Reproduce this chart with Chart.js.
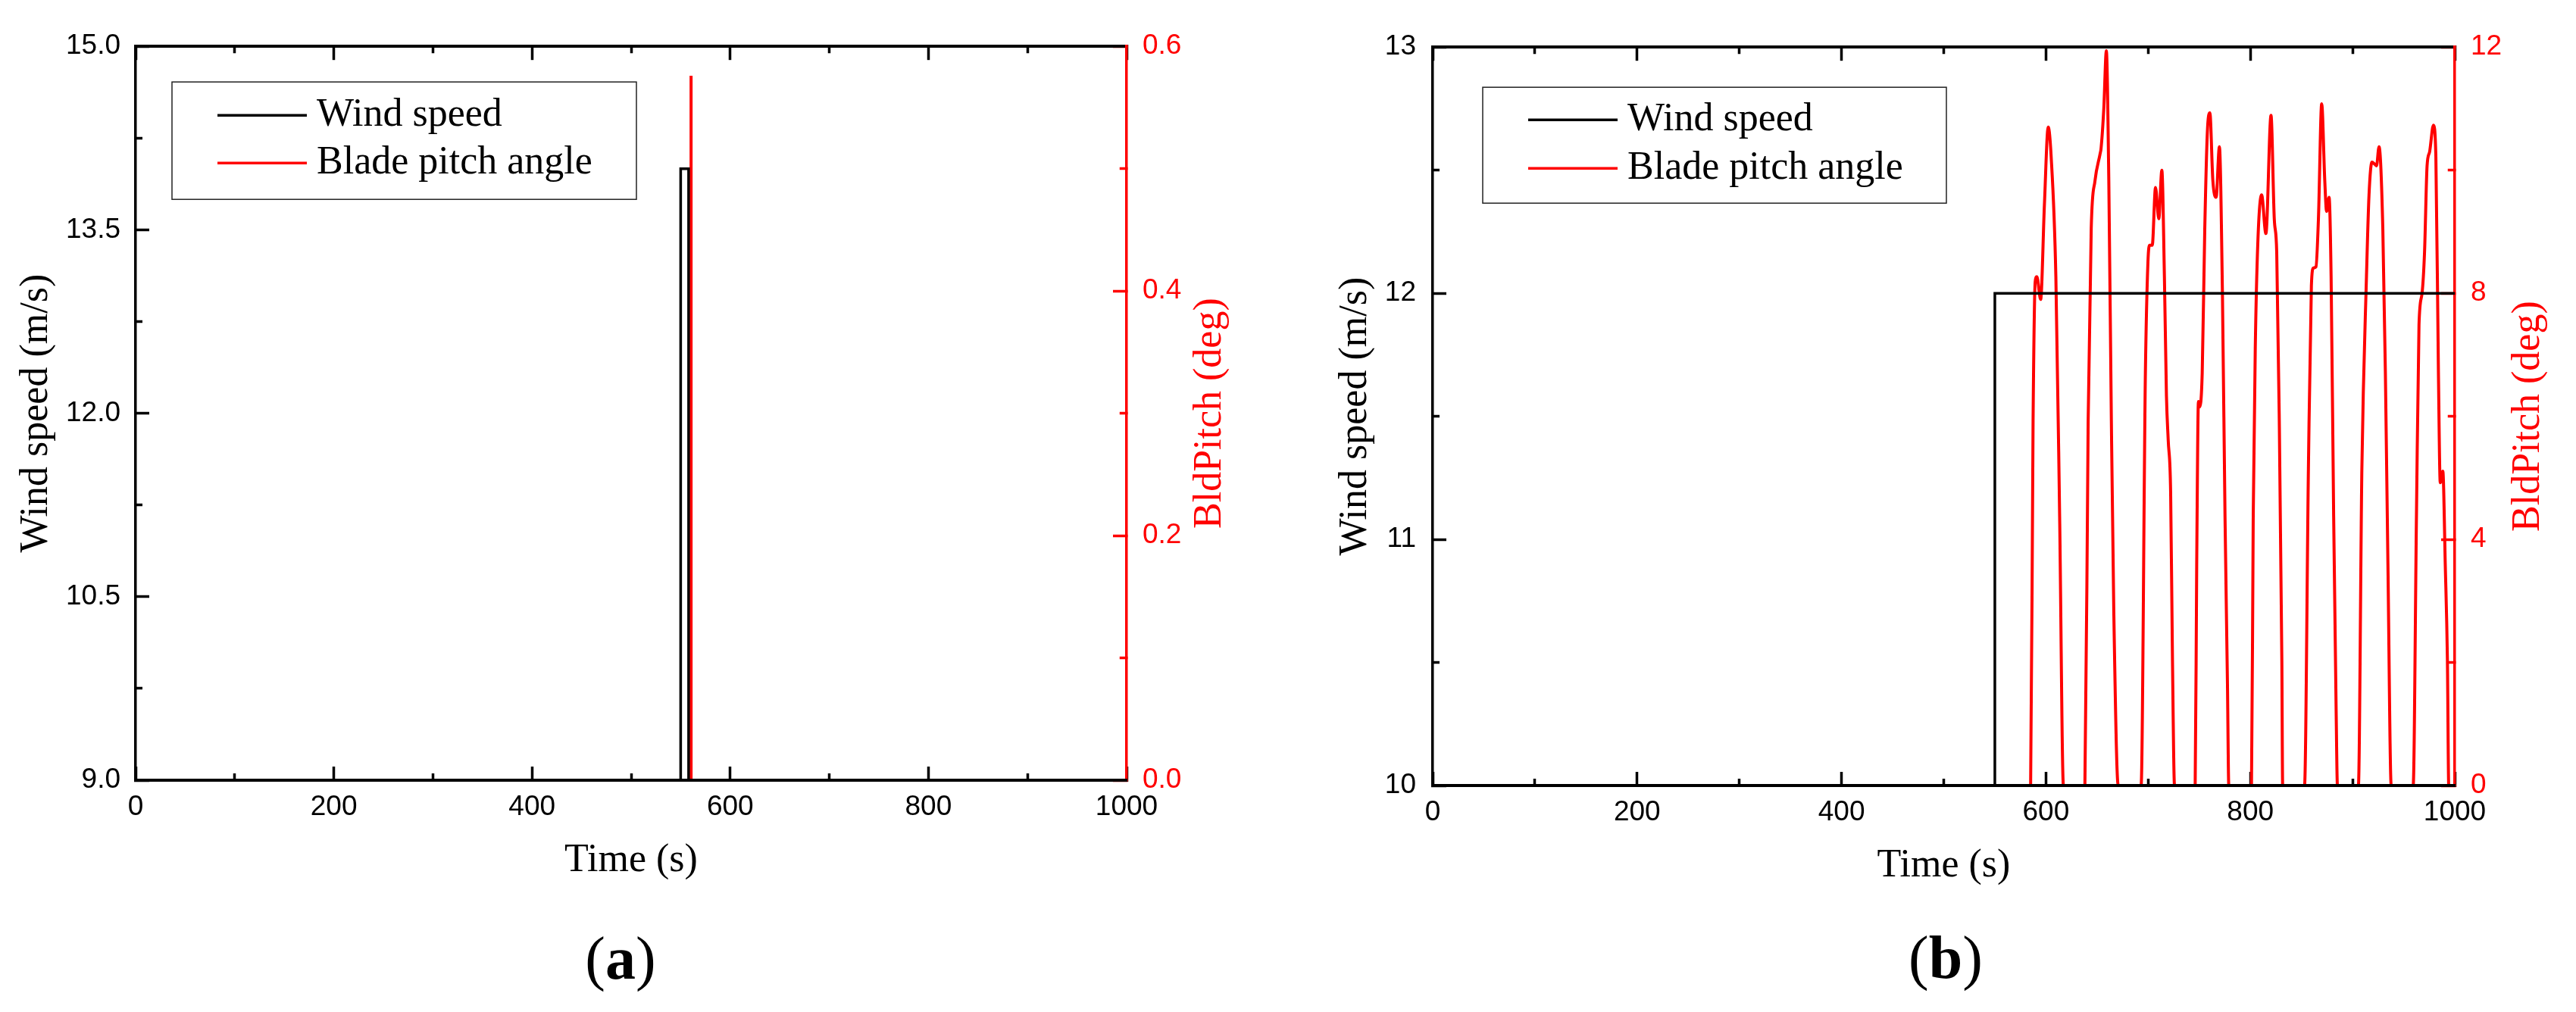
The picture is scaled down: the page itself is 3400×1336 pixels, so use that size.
<!DOCTYPE html>
<html>
<head>
<meta charset="utf-8">
<script src="https://cdn.jsdelivr.net/npm/chart.js@4.4.1/dist/chart.umd.min.js"></script>
<style>
  html, body { margin: 0; padding: 0; background: #fff; }
  #wrap { position: relative; width: 3400px; height: 1336px; }
  canvas { position: absolute; top: 0; }
  #chartA { left: 0; }
  #chartB { left: 1700px; }
</style>
</head>
<body>
<div id="wrap">
  <canvas id="chartA" width="1700" height="1336"></canvas>
  <canvas id="chartB" width="1700" height="1336"></canvas>
</div>
<script>
// ---- panel (a): short gust, single pitch spike ----
const timeWindA = [0, 550, 550, 558, 558, 1000];
const windA = [9, 9, 14, 14, 9, 9];
const timePitchA = [0, 560.5, 560.5, 560.5, 1000];
const pitchA = [0, 0, 0.576, 0, 0];

// ---- panel (b): step to 12 m/s, pitch controller pulses ----
const timeWindB = [0, 550, 550, 1000];
const windB = [10, 10, 12, 12];
const timePitchB = [
  0, 585.0, 587.4, 589.5, 591.1, 594.8, 598.5, 602.2, 605.1, 609.7, 613.4, 617.1,
  638.1, 641.3, 644.3, 648.0, 652.9, 653.9, 656.6, 659.1, 661.5, 664.0, 666.4, 670.7,
  693.1, 697.3, 699.8, 701.5, 704.0, 707.2, 710.4, 713.4, 715.9, 717.9, 719.6, 722.0, 723.8, 725.8,
  746.0, 747.5, 749.2, 750.2, 752.9, 755.4, 757.9, 760.4, 763.3, 766.5, 769.7, 772.7, 775.2, 777.6, 778.9,
  801.1, 802.8, 804.8, 807.3, 811.0, 815.2, 820.2, 823.4, 825.8, 828.3, 830.8, 831.6,
  853.0, 856.8, 859.7, 861.7, 864.2, 866.6, 869.8, 872.8, 874.6, 877.0, 879.0, 881.5, 883.9, 885.2,
  905.7, 909.1, 913.6, 916.1, 919.0, 921.5, 923.4, 925.9, 929.6, 932.1, 934.6, 937.8,
  959.3, 962.5, 965.0, 968.0, 970.4, 972.9, 975.4, 979.1, 981.5, 984.0, 985.8, 988.3, 990.7, 992.8, 994.1, 1000
];
const pitchB = [
  0, 0, 5.93, 8.19, 8.27, 7.90, 9.44, 10.70, 10.22, 8.27, 4.37, 0,
  0, 5.93, 9.05, 9.83, 10.26, 10.35, 11.0, 11.94, 9.83, 5.93, 2.81, 0,
  0, 6.71, 8.51, 8.78, 8.78, 9.72, 9.21, 10.0, 8.27, 6.33, 5.62, 4.76, 2.03, 0,
  0, 3.59, 6.24, 6.15, 6.71, 9.05, 10.61, 10.93, 9.83, 9.56, 10.38, 7.96, 4.37, 1.64, 0,
  0, 4.37, 7.10, 8.82, 9.60, 8.97, 10.89, 9.21, 8.66, 5.93, 2.03, 0,
  0, 5.15, 8.12, 8.41, 8.43, 9.21, 11.08, 9.83, 9.33, 9.56, 8.27, 4.37, 1.25, 0,
  0, 5.15, 8.27, 9.60, 10.13, 10.10, 10.07, 10.38, 9.05, 6.71, 3.59, 0,
  0, 4.37, 7.49, 8.00, 8.66, 10.07, 10.30, 10.73, 10.22, 6.71, 4.92, 5.11, 3.59, 2.03, 0, 0
];

// major tick values (labels); minor ticks sit halfway between
const timeTicks = [0, 200, 400, 600, 800, 1000];
const windTicksA = [9.0, 10.5, 12.0, 13.5, 15.0];
const pitchTicksA = [0.0, 0.2, 0.4, 0.6];
const windTicksB = [10, 11, 12, 13];
const pitchTicksB = [0, 4, 8, 12];

const SERIF = "'Liberation Serif', 'Times New Roman', serif";
const RED = '#ff0000';
const TICK_LEN = 18;
const MINOR_LEN = 9;

Chart.defaults.font.family = "'Liberation Sans', Arial, sans-serif";
Chart.defaults.color = '#000';
Chart.defaults.animation = false;

function zip(xs, ys) {
  return xs.map((x, i) => ({ x, y: ys[i] }));
}

function withMinors(majors) {
  const out = [];
  majors.forEach((v, i) => {
    out.push(v);
    if (i < majors.length - 1) out.push((v + majors[i + 1]) / 2);
  });
  return out;
}

// inward major/minor ticks done with negative tick length + dash for minors
function makeAxis(o) {
  const all = withMinors(o.majors);
  const isMajor = v => o.majors.some(m => Math.abs(m - v) < 1e-9);
  const innerFirst = o.position === 'left' || o.position === 'top';
  const bw = o.borderWidth || 3.5;
  return {
    type: 'linear',
    position: o.position,
    min: o.majors[0],
    max: o.majors[o.majors.length - 1],
    afterBuildTicks: s => { s.ticks = all.map(v => ({ value: v })); },
    afterFit: s => {
      if (s.isHorizontal()) s.height = o.size; else s.width = o.size;
    },
    border: { display: true, color: o.color, width: bw, z: o.borderZ || 0 },
    grid: {
      display: true,
      drawOnChartArea: false,
      drawTicks: true,
      tickLength: -TICK_LEN,
      tickWidth: 3.5,
      tickColor: o.color,
      tickBorderDash: ctx => isMajor(ctx.tick.value) ? [] :
        (innerFirst ? [0, TICK_LEN - MINOR_LEN, 100] : [MINOR_LEN + bw / 2, 100])
    },
    ticks: {
      display: !!o.labels,
      autoSkip: false,
      padding: o.labelPad || 0,
      color: o.color,
      font: { size: 37 },
      maxRotation: 0,
      callback: v => isMajor(v) ? v.toFixed(o.digits || 0) : ''
    },
    title: o.title ? {
      display: true,
      text: o.title,
      color: o.color,
      font: { family: SERIF, size: 52 },
      padding: o.titlePad
    } : { display: false }
  };
}

// legend with a frame, placed inside the plot area
const frameLegend = {
  id: 'frameLegend',
  afterDatasetsDraw(chart, args, opts) {
    const { ctx, chartArea } = chart;
    const x0 = chartArea.left + opts.x;
    const y0 = chartArea.top + opts.y;
    ctx.save();
    ctx.strokeStyle = '#222';
    ctx.lineWidth = 1.5;
    ctx.strokeRect(x0, y0, opts.w, opts.h);
    ctx.font = '52px ' + SERIF;
    ctx.textBaseline = 'middle';
    ctx.textAlign = 'left';
    chart.data.datasets.forEach((ds, i) => {
      const y = y0 + opts.rows[i];
      ctx.strokeStyle = ds.borderColor;
      ctx.lineWidth = 3.5;
      ctx.beginPath();
      ctx.moveTo(x0 + 60, y);
      ctx.lineTo(x0 + 178, y);
      ctx.stroke();
      ctx.fillStyle = '#000';
      ctx.fillText(ds.label, x0 + 191, y);
    });
    ctx.restore();
  }
};

// right axis title reads bottom-to-top like the left one
const sideTitle = {
  id: 'sideTitle',
  afterDraw(chart, args, opts) {
    const { ctx, chartArea } = chart;
    ctx.save();
    ctx.translate(chartArea.right + opts.dx, (chartArea.top + chartArea.bottom) / 2);
    ctx.rotate(-Math.PI / 2);
    ctx.font = '52px ' + SERIF;
    ctx.fillStyle = opts.color;
    ctx.textAlign = 'center';
    ctx.textBaseline = 'middle';
    ctx.fillText(opts.text, 0, 0);
    ctx.restore();
  }
};

// "(a)" / "(b)" with bold letter
const panelLabel = {
  id: 'panelLabel',
  afterDraw(chart, args, opts) {
    const { ctx } = chart;
    const normal = '80px ' + SERIF;
    const bold = 'bold 80px ' + SERIF;
    ctx.save();
    ctx.fillStyle = '#000';
    ctx.textBaseline = 'alphabetic';
    ctx.textAlign = 'left';
    ctx.font = normal;
    const wp = ctx.measureText('(').width;
    const wc = ctx.measureText(')').width;
    ctx.font = bold;
    const wl = ctx.measureText(opts.letter).width;
    let x = opts.cx - (wp + wl + wc) / 2;
    ctx.font = normal;
    ctx.fillText('(', x, opts.baseline);
    x += wp;
    ctx.font = bold;
    ctx.fillText(opts.letter, x, opts.baseline);
    x += wl;
    ctx.font = normal;
    ctx.fillText(')', x, opts.baseline);
    ctx.restore();
  }
};

function buildPanel(id, p) {
  return new Chart(document.getElementById(id), {
    type: 'line',
    data: {
      datasets: [
        {
          label: 'Wind speed',
          data: zip(p.tWind, p.wind),
          borderColor: '#000',
          borderWidth: 3.5,
          xAxisID: 'x',
          yAxisID: 'y',
          pointRadius: 0,
          tension: 0
        },
        {
          label: 'Blade pitch angle',
          data: zip(p.tPitch, p.pitch),
          borderColor: RED,
          borderWidth: 4,
          xAxisID: 'x',
          yAxisID: 'y1',
          pointRadius: 0,
          tension: 0,
          cubicInterpolationMode: p.smooth ? 'monotone' : 'default'
        }
      ]
    },
    options: {
      responsive: false,
      devicePixelRatio: 1,
      events: [],
      layout: { padding: { top: p.top, left: 0, right: 0, bottom: 0 } },
      scales: {
        x: makeAxis({ position: 'bottom', majors: timeTicks, color: '#000', labels: true,
          labelPad: 31.5, size: p.xSize, borderWidth: 4, borderZ: 1,
          title: 'Time (s)', titlePad: { top: 0, bottom: p.xTitlePad } }),
        xTop: makeAxis({ position: 'top', majors: timeTicks, color: '#000', size: 0, borderWidth: 4 }),
        y: makeAxis({ position: 'left', majors: p.windTicks, digits: p.digits, color: '#000', labels: true,
          labelPad: p.leftPad, size: p.leftSize,
          title: 'Wind speed (m/s)', titlePad: { top: p.yTitlePad, bottom: 0 } }),
        y1: makeAxis({ position: 'right', majors: p.pitchTicks, digits: p.digits, color: RED, labels: true,
          labelPad: p.rightPad, size: p.rightSize })
      },
      plugins: {
        legend: { display: false },
        tooltip: { enabled: false },
        frameLegend: p.legend,
        sideTitle: { text: 'BldPitch (deg)', color: RED, dx: p.sideDx },
        panelLabel: p.label
      }
    },
    plugins: [frameLegend, sideTitle, panelLabel]
  });
}

buildPanel('chartA', {
  tWind: timeWindA, wind: windA, tPitch: timePitchA, pitch: pitchA, smooth: false,
  windTicks: windTicksA, pitchTicks: pitchTicksA, digits: 1,
  top: 58, xSize: 306, leftSize: 179, rightSize: 213,
  leftPad: 38, rightPad: 39, xTitlePad: 168, yTitlePad: 17,
  sideDx: 110,
  legend: { x: 48, y: 47, w: 613, h: 155, rows: [44, 107] },
  label: { letter: 'a', cx: 819, baseline: 1292 }
});

buildPanel('chartB', {
  tWind: timeWindB, wind: windB, tPitch: timePitchB, pitch: pitchB, smooth: true,
  windTicks: windTicksB, pitchTicks: pitchTicksB, digits: 0,
  top: 54, xSize: 299, leftSize: 191, rightSize: 160,
  leftPad: 40, rightPad: 39, xTitlePad: 161, yTitlePad: 58,
  sideDx: 97,
  legend: { x: 66, y: 53, w: 612, h: 153, rows: [43, 107] },
  label: { letter: 'b', cx: 868, baseline: 1291 }
});
</script>
</body>
</html>
